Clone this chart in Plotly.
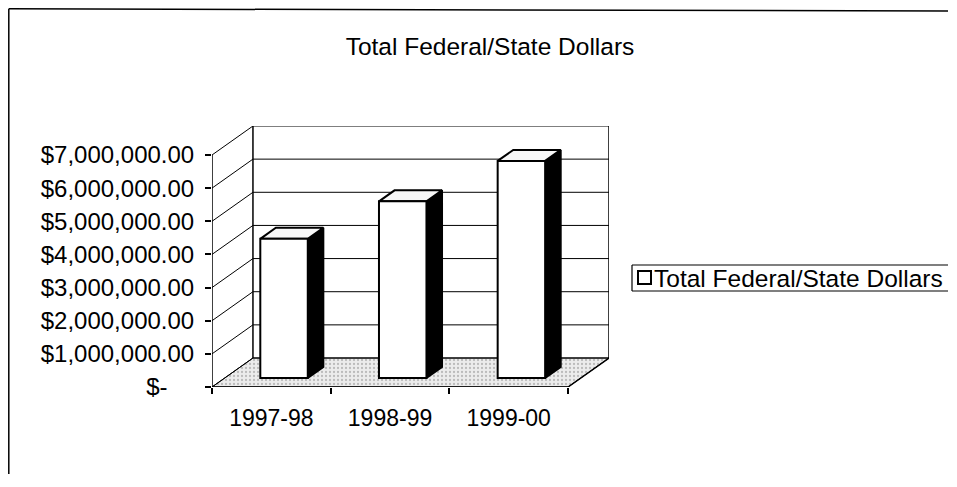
import plotly.graph_objects as go

# ---- data ----
categories = ["1997-98", "1998-99", "1999-00"]
values = [4200000, 5330000, 6550000]
series_name = "Total Federal/State Dollars"
tick_vals = [0, 1000000, 2000000, 3000000, 4000000, 5000000, 6000000, 7000000]
tick_text = ["$-" + "\u00a0" * 4, "$1,000,000.00", "$2,000,000.00", "$3,000,000.00",
             "$4,000,000.00", "$5,000,000.00", "$6,000,000.00", "$7,000,000.00"]
chart_title = "Total Federal/State Dollars"

# ---- 3D oblique geometry (styling) ----
n = len(categories)
ymax = tick_vals[-1]
DX = 0.345          # depth shift in category units
DY = 875000         # depth shift in value units
F1, F2 = 0.31, 0.69 # bar front/back depth fractions
BW = 0.40           # bar width in category units
FONT = "Arial, Liberation Sans, sans-serif"

fig = go.Figure()

def poly(xs, ys, fill, line_color="black", lw=1, pattern=None):
    kw = dict(x=xs + [xs[0]], y=ys + [ys[0]], mode="lines", fill="toself",
              fillcolor=fill, line=dict(color=line_color, width=lw),
              hoverinfo="skip", showlegend=False)
    if pattern:
        kw["fillpattern"] = pattern
    fig.add_trace(go.Scatter(**kw))

def seg(xs, ys, lw=1, color="black"):
    fig.add_trace(go.Scatter(x=xs, y=ys, mode="lines", line=dict(color=color, width=lw),
                             hoverinfo="skip", showlegend=False))

# floor
poly([0, n, n + DX, DX], [0, 0, DY, DY], "#e4e4e4", lw=1,
     pattern=dict(shape=".", bgcolor="#ececec", fgcolor="#8a8a8a", size=4, solidity=0.25))

# back wall gridlines + left wall diagonals
for v in tick_vals:
    seg([0, DX, n + DX], [v, v + DY, v + DY], lw=1)
seg([DX, DX], [DY, ymax + DY], lw=1.5)
seg([n + DX, n + DX], [DY, ymax + DY], lw=1.5)
seg([0, 0], [0, ymax], lw=1.5)
seg([0, n, n + DX], [0, 0, DY], lw=1.5)

# bar side & top faces
for i, v in enumerate(values):
    x0 = i + 0.5 - BW / 2 + F1 * DX
    x1 = x0 + BW
    b = F1 * DY
    t = v + F1 * DY
    ddx = (F2 - F1) * DX
    ddy = (F2 - F1) * DY
    poly([x1, x1 + ddx, x1 + ddx, x1], [b, b + ddy, t + ddy, t], "black", lw=2)
    poly([x0, x1, x1 + ddx, x0 + ddx], [t, t, t + ddy, t + ddy], "#f7f7f7", lw=2)

# bar front faces (real bar trace on category axis overlay)
fig.add_trace(go.Bar(
    x=categories, y=values, base=[F1 * DY] * n, width=BW,
    offset=-BW / 2 + F1 * DX, name=series_name,
    marker=dict(color="white", line=dict(color="black", width=2)),
    xaxis="x2", yaxis="y", showlegend=False, hoverinfo="skip"))

# page has an 8px body margin: figure is sized to fit inside the 957x487 window
OFF = 8
W, H = 940, 466
L = 212 - OFF
R = W - (609 - OFF)
T = 126 - OFF
B = H - (387 - OFF)
pw, ph = W - L - R, H - T - B
RIGHT = OFF + W + 0.0   # page x of the figure's right edge

def px_x(p):  # page pixel -> paper
    return (p - OFF - L) / pw

def px_y(p):
    return (H - B - (p - OFF)) / ph

fig.update_layout(
    width=W, height=H, margin=dict(l=L, r=R, t=T, b=B, autoexpand=False),
    paper_bgcolor="white", plot_bgcolor="rgba(0,0,0,0)",
    font=dict(family=FONT, color="black"),
    title=dict(text=chart_title, x=(490 - OFF) / W, xanchor="center",
               y=(H - (46 - OFF)) / H, yanchor="middle",
               font=dict(size=24.5, family=FONT, color="black")),
    xaxis=dict(range=[0, n + DX], visible=False, fixedrange=True),
    xaxis2=dict(type="category", overlaying="x", anchor="y", side="bottom",
                range=[-0.5, n - 0.5 + DX], tickson="boundaries", ticks="outside",
                ticklen=6, tickcolor="black", tickwidth=1.5, showgrid=False,
                showline=False, zeroline=False, categoryorder="array",
                categoryarray=categories, tickfont=dict(size=23, family=FONT, color="black"),
                ticklabelstandoff=15),
    yaxis=dict(range=[0, ymax + DY], tickvals=tick_vals, ticktext=tick_text,
               ticks="outside", ticklen=6, tickcolor="black", tickwidth=1.5,
               showgrid=False, zeroline=False, showline=False,
               tickfont=dict(size=24, family=FONT, color="black"), ticklabelstandoff=6),
    showlegend=False,
    annotations=[dict(text=series_name, xref="paper", yref="paper",
                      x=px_x(653), y=px_y(278), xanchor="left", yanchor="middle",
                      showarrow=False, borderpad=0,
                      font=dict(size=24.5, family=FONT, color="black"))],
    shapes=[
        dict(type="line", xref="paper", yref="paper",
             x0=px_x(8.8), x1=px_x(8.8), y0=px_y(OFF + H), y1=px_y(8.8),
             line=dict(color="black", width=1.5), layer="below"),
        dict(type="line", xref="paper", yref="paper",
             x0=px_x(8.8), x1=px_x(RIGHT), y0=px_y(8.8), y1=px_y(11),
             line=dict(color="black", width=1.5), layer="below"),
        dict(type="line", xref="paper", yref="paper",
             x0=px_x(632), x1=px_x(RIGHT), y0=px_y(265), y1=px_y(265),
             line=dict(color="black", width=1.2), layer="above"),
        dict(type="line", xref="paper", yref="paper",
             x0=px_x(632), x1=px_x(RIGHT), y0=px_y(291), y1=px_y(291),
             line=dict(color="black", width=1.2), layer="above"),
        dict(type="line", xref="paper", yref="paper",
             x0=px_x(632), x1=px_x(632), y0=px_y(291), y1=px_y(265),
             line=dict(color="black", width=1.2), layer="above"),
        dict(type="rect", xref="paper", yref="paper",
             x0=px_x(638), x1=px_x(651), y0=px_y(284), y1=px_y(271),
             line=dict(color="black", width=2), fillcolor="white", layer="above"),
    ],
)

fig.write_html("out.html")
